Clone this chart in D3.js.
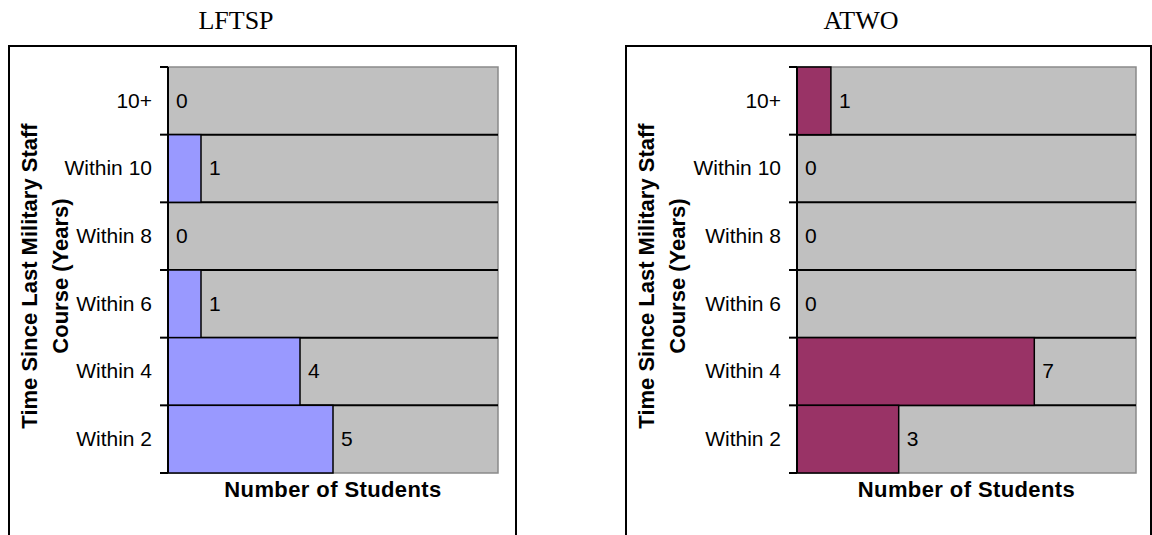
<!DOCTYPE html>
<html>
<head>
<meta charset="utf-8">
<script src="https://cdn.jsdelivr.net/npm/d3@7"></script>
<style>
  html, body { margin: 0; padding: 0; background: #ffffff; }
  svg { display: block; }
</style>
</head>
<body>
<svg id="chart" width="1152" height="535"></svg>
<script>
// ---- data ----
const categories = ["10+", "Within 10", "Within 8", "Within 6", "Within 4", "Within 2"];
const lftspValues = [0, 1, 0, 1, 4, 5];
const atwoValues = [1, 0, 0, 0, 7, 3];
const panelTitles = ["LFTSP", "ATWO"];
const xDomainMax = 10;
const yTitleLines = ["Time Since Last Military Staff", "Course (Years)"];
const xTitle = "Number of Students";

// ---- layout / style ----
const panels = [
  { title: panelTitles[0], values: lftspValues, color: "#9999FF",
    frameX: 9, frameW: 507, titleX: 236, plotX0: 168, plotX1: 498 },
  { title: panelTitles[1], values: atwoValues, color: "#993366",
    frameX: 626, frameW: 525, titleX: 861, plotX0: 797, plotX1: 1136 }
];

const svg = d3.select("#chart");
const plotTop = 67, plotBottom = 473;
const sans = "'Liberation Sans', Arial, sans-serif";
const serif = "'Liberation Serif', 'Times New Roman', serif";

panels.forEach(p => {
  const g = svg.append("g");
  // outer frame
  g.append("rect")
    .attr("x", p.frameX).attr("y", 46)
    .attr("width", p.frameW).attr("height", 520)
    .attr("fill", "none").attr("stroke", "#000").attr("stroke-width", 2);

  // title
  g.append("text")
    .attr("x", p.titleX).attr("y", 29)
    .attr("text-anchor", "middle")
    .attr("font-family", serif).attr("font-size", 26)
    .attr("fill", "#000")
    .text(p.title);

  const x = d3.scaleLinear().domain([0, xDomainMax]).range([p.plotX0, p.plotX1]);
  const y = d3.scaleBand().domain(categories).range([plotTop, plotBottom]).padding(0);

  // plot background
  g.append("rect")
    .attr("x", p.plotX0).attr("y", plotTop)
    .attr("width", p.plotX1 - p.plotX0).attr("height", plotBottom - plotTop)
    .attr("fill", "#C0C0C0").attr("stroke", "#8a8a8a").attr("stroke-width", 1.5);

  // gridlines at interior category boundaries
  const bounds = categories.slice(1).map(c => y(c));
  g.selectAll("line.grid").data(bounds).enter().append("line")
    .attr("class", "grid")
    .attr("x1", p.plotX0).attr("x2", p.plotX1)
    .attr("y1", d => d).attr("y2", d => d)
    .attr("stroke", "#000").attr("stroke-width", 2);

  // bars
  g.selectAll("rect.bar").data(categories.map((c, i) => ({ c, v: p.values[i] })))
    .enter().filter(d => d.v > 0).append("rect")
    .attr("class", "bar")
    .attr("x", x(0)).attr("y", d => y(d.c))
    .attr("width", d => x(d.v) - x(0)).attr("height", y.bandwidth())
    .attr("fill", p.color).attr("stroke", "#000").attr("stroke-width", 1.5);

  // y axis
  const axis = d3.axisLeft(y).tickSize(0).tickPadding(16);
  const ag = g.append("g").attr("transform", `translate(${p.plotX0},0)`).call(axis);
  ag.select(".domain").attr("stroke", "#000").attr("stroke-width", 2).attr("d", `M0,${plotTop}V${plotBottom}`);
  ag.selectAll("text")
    .attr("font-family", sans).attr("font-size", 21).attr("fill", "#000")
    .attr("dy", "0.33em");
  // boundary ticks
  const allBounds = [plotTop].concat(bounds, [plotBottom]);
  ag.selectAll("line.btick").data(allBounds).enter().append("line")
    .attr("class", "btick")
    .attr("x1", -8).attr("x2", 0)
    .attr("y1", d => d).attr("y2", d => d)
    .attr("stroke", "#000").attr("stroke-width", 2);

  // value labels
  g.selectAll("text.val").data(categories.map((c, i) => ({ c, v: p.values[i] })))
    .enter().append("text")
    .attr("class", "val")
    .attr("x", d => x(d.v) + 8)
    .attr("y", d => y(d.c) + y.bandwidth() / 2)
    .attr("dy", "0.33em")
    .attr("font-family", sans).attr("font-size", 21).attr("fill", "#000")
    .text(d => d.v);

  // x title
  g.append("text")
    .attr("x", (p.plotX0 + p.plotX1) / 2).attr("y", 497)
    .attr("text-anchor", "middle")
    .attr("font-family", sans).attr("font-size", 22).attr("font-weight", "bold")
    .attr("letter-spacing", 0.4)
    .attr("fill", "#000")
    .text(xTitle);

  // y title (two rotated lines)
  const yt = g.append("text")
    .attr("transform", `translate(${p.frameX + 28},276) rotate(-90)`)
    .attr("text-anchor", "middle")
    .attr("font-family", sans).attr("font-size", 22).attr("font-weight", "bold")
    .attr("fill", "#000");
  yTitleLines.forEach((t, i) => {
    yt.append("tspan").attr("x", 0).attr("y", i * 31).text(t);
  });
});
</script>
</body>
</html>
